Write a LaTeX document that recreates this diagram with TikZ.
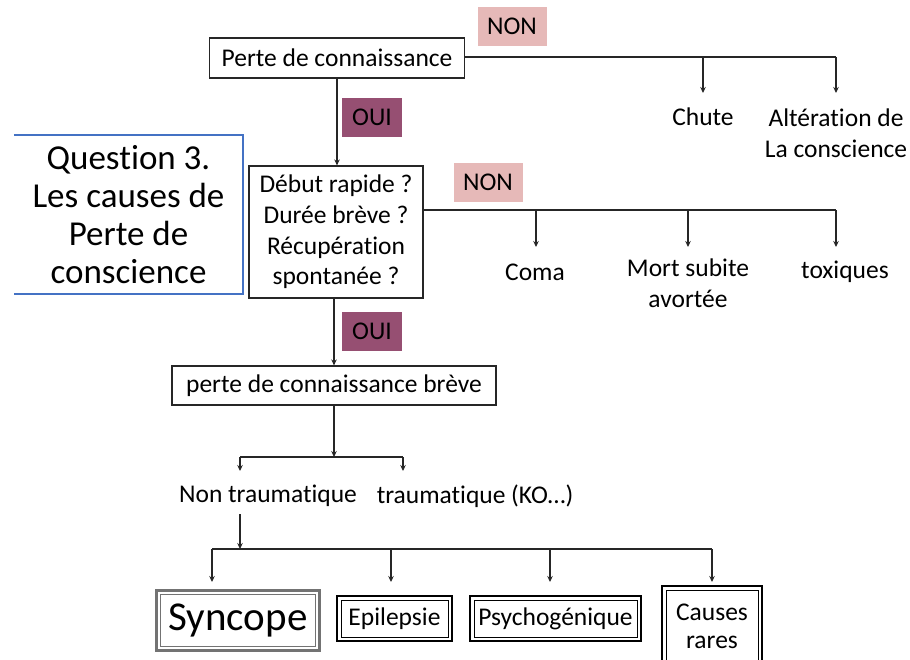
\documentclass[tikz,border=0pt]{standalone}
\usepackage{fontspec}
\setmainfont{Carlito}[Ligatures=NoCommon]
\usetikzlibrary{arrows.meta}
\definecolor{nonpink}{HTML}{E6B9B8}
\definecolor{ouipurple}{HTML}{964F72}
\definecolor{qblue}{HTML}{4472C4}
\definecolor{lncol}{HTML}{262626}
\begin{document}
\begin{tikzpicture}[x=1pt,y=-1pt,
  font=\fontsize{25.5}{30.7}\selectfont,
  box/.style={draw=lncol, line width=1.2pt, fill=white, inner sep=0pt, align=center},
  tag/.style={minimum width=69pt, minimum height=39pt, inner sep=0pt},
  lbl/.style={inner sep=0pt, align=center},
  ln/.style={draw=lncol, line width=1.4pt},
  arr/.style={ln, -{Stealth[length=6pt,width=5.5pt]}},
  dbox/.style={fill=white, inner sep=0pt, align=center,
    draw=#1, line width=2.6pt,
    path picture={\draw[#1, line width=1pt]
      ([shift={(4pt,4pt)}]path picture bounding box.south west) rectangle
      ([shift={(-4pt,-4pt)}]path picture bounding box.north east);}},
  dbox/.default=black]
\useasboundingbox (0,0) rectangle (910,659);

% top level
\node[box, minimum width=255pt, minimum height=40pt] (b1) at (337,58) {Perte de connaissance};
\node[tag, fill=nonpink] (non1) at (512,26) {NON};
\node[tag, minimum width=60pt, fill=ouipurple] (oui1) at (372,117) {OUI};

\coordinate (r1) at (836,57);
\coordinate (d1) at (703,57);
\coordinate (e1) at (703,93);
\coordinate (e2) at (836,93);
\draw[ln] (b1.east |- r1) -- (r1);
\draw[arr] (d1) -- (e1);
\draw[arr] (r1) -- (e2);
\node[lbl] (chute) at (703,117) {Chute};
\node[lbl] (alt) at (836,133) {Altération de\\La conscience};

% question box
\node[lbl, minimum width=229pt, minimum height=159pt, font=\fontsize{35}{38}\selectfont] (q) at (128.5,214.5) {Question 3.\\Les causes de\\Perte de\\conscience};
\draw[qblue, line width=2.2pt] (q.north west) -- (q.north east) -- (q.south east) -- (q.south west);

% second level
\node[box, minimum width=174pt, minimum height=132pt] (b2) at (336,232) {Début rapide ?\\Durée brève ?\\Récupération\\spontanée ?};
\draw[arr] (b1.south) -- (b1.south |- b2.north);
\node[tag, fill=nonpink] (non2) at (488,182) {NON};

\coordinate (r2) at (836,210);
\coordinate (d2) at (536,210);
\coordinate (d3) at (688,210);
\coordinate (f1) at (536,247);
\coordinate (f2) at (688,247);
\coordinate (f3) at (836,247);
\draw[ln] (b2.east |- r2) -- (r2);
\draw[arr] (d2) -- (f1);
\draw[arr] (d3) -- (f2);
\draw[arr] (r2) -- (f3);
\node[lbl] (coma) at (535,272) {Coma};
\node[lbl] (mort) at (688,283) {Mort subite\\avortée};
\node[lbl] (tox) at (845,272) {toxiques};

% third level
\node[box, minimum width=324pt, minimum height=39pt] (b3) at (334,385.5) {perte de connaissance brève};
\draw[arr] (b3.north |- b2.south) -- (b3.north);
\node[tag, minimum width=60pt, fill=ouipurple] (oui2) at (372,331) {OUI};

\coordinate (j3) at (334,457);
\coordinate (g1) at (240,457);
\coordinate (g2) at (403,457);
\coordinate (h1) at (240,471);
\coordinate (h2) at (403,471);
\draw[arr] (b3.south) -- (j3);
\draw[ln] (g1) -- (g2);
\draw[arr] (g1) -- (h1);
\draw[arr] (g2) -- (h2);
\node[lbl] (nontr) at (268,496) {Non traumatique};
\node[lbl] (tr) at (475,496) {traumatique (KO…)};

% fourth level
\coordinate (s0) at (240,514);
\coordinate (j4) at (240,549);
\coordinate (k1) at (212,549);
\coordinate (k2) at (391,549);
\coordinate (k3) at (550,549);
\coordinate (k4) at (712,549);
\coordinate (m1) at (212,582);
\coordinate (m2) at (391,582);
\coordinate (m3) at (550,582);
\coordinate (m4) at (712,582);
\draw[arr] (s0) -- (j4);
\draw[ln] (k1) -- (k4);
\draw[arr] (k1) -- (m1);
\draw[arr] (k2) -- (m2);
\draw[arr] (k3) -- (m3);
\draw[arr] (k4) -- (m4);

\node[dbox=black!55, minimum width=163pt, minimum height=60pt, font=\fontsize{41}{44}\selectfont] (sync) at (238,620.5) {Syncope};
\node[dbox, minimum width=115pt, minimum height=45pt] (epi) at (394.5,618.5) {Epilepsie};
\node[dbox, minimum width=171pt, minimum height=45pt] (psy) at (555.5,618.5) {Psychogénique};
\node[dbox, minimum width=100pt, minimum height=80pt, font=\fontsize{25.5}{28}\selectfont] (rare) at (712,626) {Causes\\rares};
\end{tikzpicture}
\end{document}
